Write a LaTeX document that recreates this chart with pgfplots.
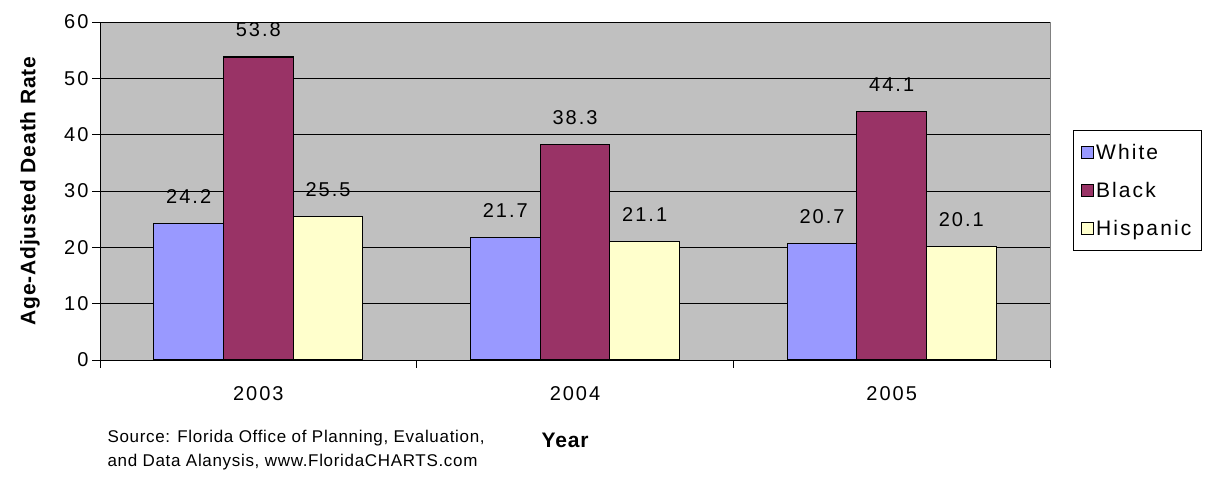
\documentclass[border=0pt]{standalone}
\usepackage{pgfplots}
\pgfplotsset{compat=1.18}
\usepackage{fontspec}
\setmainfont{Liberation Sans}
\newfontfamily\wfont[LetterSpace=10]{Liberation Sans}
\newfontfamily\sfont[LetterSpace=4]{Liberation Sans}
\definecolor{plotbg}{HTML}{C0C0C0}
\definecolor{cwhite}{HTML}{9999FF}
\definecolor{cblack}{HTML}{993366}
\definecolor{chisp}{HTML}{FFFFCC}
\begin{document}
\begin{tikzpicture}
\path[use as bounding box] (0,0) rectangle (1215pt,479pt);
\begin{axis}[at={(100pt,119pt)}, anchor=south west,
             scale only axis, width=950pt, height=338pt,
             xmin=-0.5, xmax=2.5, ymin=0, ymax=60,
             xtick={-0.5,0.5,1.5,2.5}, x tick label as interval,
             xticklabels={2003,2004,2005},
             ytick={0,10,...,60},
             axis x line*=bottom, axis y line*=left,
             axis line style={black,-},
             axis background/.style={fill=plotbg, draw=gray},
             ymajorgrids, grid style={black, line width=0.9pt},
             tick align=outside, major tick length=8pt,
             tick style={black, line width=0.9pt},
             /pgf/number format/assume math mode=true,
             ticklabel style={font=\wfont\fontsize{20}{24}\selectfont},
             x tick label style={yshift=-15pt},
             ylabel={\bfseries Age-Adjusted Death Rate},
             ylabel style={at={(axis description cs:-0.0737,0.5)}, anchor=center, font=\sfont\fontsize{21}{24}\selectfont},
             xlabel={\bfseries Year},
             xlabel style={at={(axis description cs:0.4895,-0.2367)}, anchor=center, font=\sfont\fontsize{21}{24}\selectfont},
             ybar, bar width=0.22,
             nodes near coords,
             every node near coord/.append style={font=\wfont\fontsize{20}{24}\selectfont, yshift=16pt},
             nodes near coords style={/pgf/number format/fixed, /pgf/number format/precision=1, /pgf/number format/fixed zerofill},
             legend style={at={(axis description cs:1.0242,0.680)}, anchor=north west,
                           draw=black, fill=white, font=\wfont\fontsize{21}{24}\selectfont,
                           row sep=17pt, inner xsep=8pt, inner ysep=12pt, nodes={inner sep=2pt}},
             legend cell align=left,
             legend image code/.code={\draw[#1,/tikz/.cd,line width=0.9pt] (0pt,-6pt) rectangle (12pt,6pt);},
]
\addplot[fill=cwhite, draw=black, line width=1.2pt, bar shift=-0.22] coordinates {(0,24.2) (1,21.7) (2,20.7)};
\addlegendentry{White}
\addplot[fill=cblack, draw=black, line width=1.2pt, bar shift=0] coordinates {(0,53.8) (1,38.3) (2,44.1)};
\addlegendentry{Black}
\addplot[fill=chisp, draw=black, line width=1.2pt, bar shift=0.22] coordinates {(0,25.5) (1,21.1) (2,20.1)};
\addlegendentry{Hispanic}
\end{axis}
\node[anchor=west, align=left, font=\sfont\fontsize{17}{24}\selectfont] at (104pt,29pt)
  {Source: Florida Office of Planning, Evaluation,\\and Data Alanysis, www.FloridaCHARTS.com};
\end{tikzpicture}
\end{document}
